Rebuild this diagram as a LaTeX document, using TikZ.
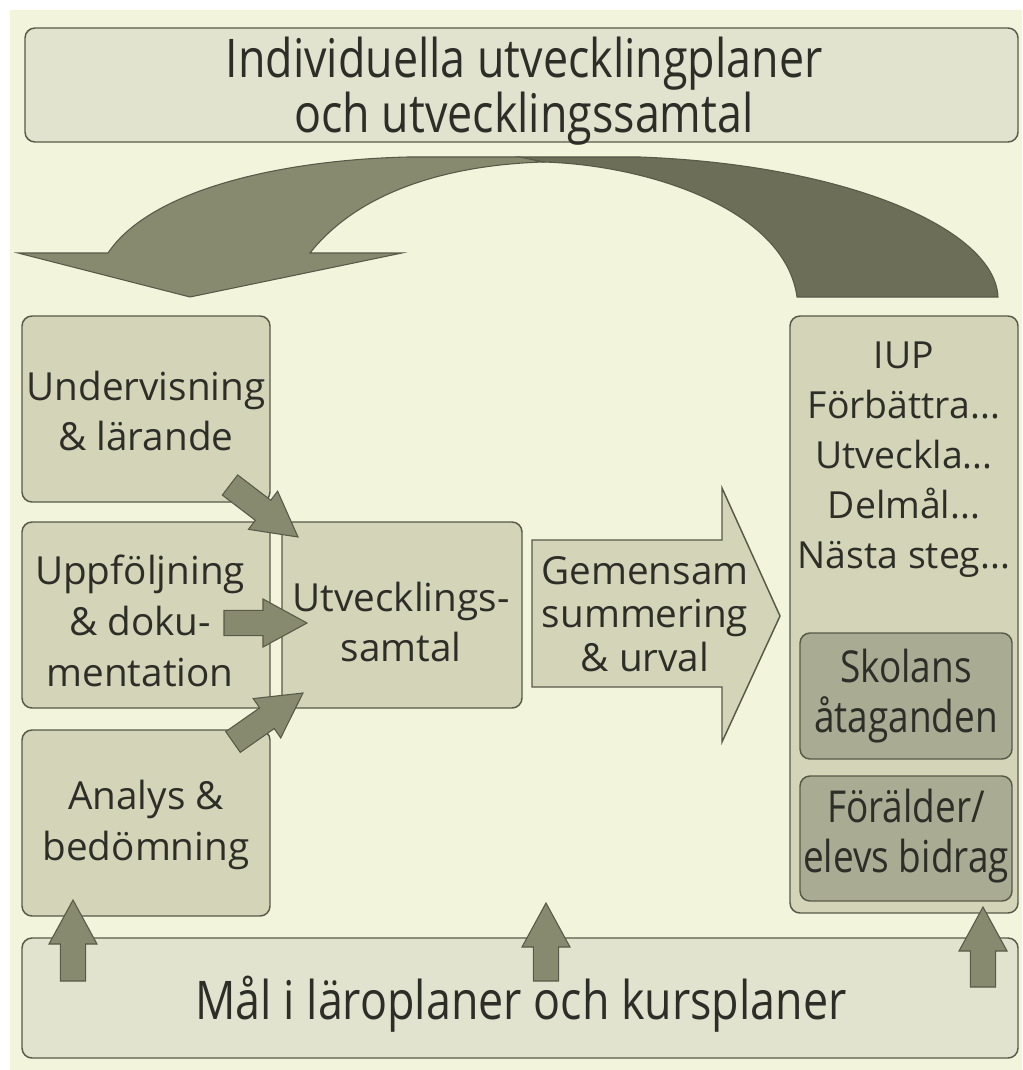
\documentclass[tikz,border=0pt]{standalone}
\usepackage{fontspec}
\setmainfont{Open Sans}
\newfontfamily\condfont[FakeStretch=0.84]{Open Sans}
\usetikzlibrary{calc,fit}
\definecolor{bgc}{HTML}{F2F4DC}
\definecolor{paleb}{HTML}{E2E3CF}
\definecolor{midb}{HTML}{D4D5B8}
\definecolor{darkb}{HTML}{AAAB93}
\definecolor{edgec}{HTML}{585A48}
\definecolor{arrf}{HTML}{878A6F}
\definecolor{arrd}{HTML}{6C6E58}
\definecolor{txtc}{HTML}{2E2E28}
\tikzset{
  box/.style={draw=edgec, line width=1.1pt, rounded corners=7.5pt, fill=midb, inner sep=0pt},
  palebox/.style={box, fill=paleb},
  darkbox/.style={box, fill=darkb},
  lbl/.style={inner sep=0pt, align=center, text=txtc},
  bigtxt/.style={lbl, font=\condfont\fontsize{40}{41}\selectfont},
  midtxt/.style={lbl, font=\fontsize{29}{38}\selectfont},
  darktxt/.style={lbl, font=\condfont\fontsize{33}{37}\selectfont},
  blk/.style={fill=arrf, draw=edgec, line width=0.8pt, line join=miter},
}
% block arrow from coordinate #1 (tail) to coordinate #2 (tip)
\newcommand\blockarrow[2]{%
  \coordinate (#1h) at ($(#2)!33pt!(#1)$);
  \draw[blk] ($(#1)!9.5pt!90:(#2)$) -- ($(#1h)!9.5pt!90:(#2)$)
    -- ($(#1h)!18pt!90:(#2)$) -- (#2) -- ($(#1h)!18pt!-90:(#2)$)
    -- ($(#1h)!9.5pt!-90:(#2)$) -- ($(#1)!9.5pt!-90:(#2)$) -- cycle;
}
\begin{document}
\begin{tikzpicture}[x=0.75pt,y=-0.75pt]
\useasboundingbox (0,0) rectangle (1022,1070);
\fill[bgc] (10,10) rectangle (1022,1070);

% top and bottom boxes
\node[palebox, fit={(25,28) (1018,142)}] (top) {};
\node[bigtxt] (toptext) at (524,91) {Individuella utvecklingplaner\\och utvecklingssamtal};
\node[palebox, fit={(22,938) (1018,1058)}] (goal) {};
\node[bigtxt] (goaltext) at (521,1004) {Mål i läroplaner och kursplaner};

% curved arrow (back, dark part)
\draw[fill=arrd, draw=edgec, line width=0.8pt]
  (520,157) -- (640,157) .. controls (850,165) and (995,230) .. (998,297)
  -- (797,297) .. controls (785,210) and (650,165) .. (543,162) -- cycle;
% curved arrow (front, light part with head)
\draw[fill=arrf, draw=edgec, line width=0.8pt, line join=miter]
  (108,253) -- (18,253) -- (190,297) -- (402,253) -- (310,253)
  .. controls (360,190) and (450,165) .. (543,162) -- (520,157) -- (408,157)
  .. controls (280,160) and (150,190) .. (108,253) -- cycle;

% left column
\node[box, fit={(22,316) (270,502)}] (teach) {};
\node[midtxt] at (146,411) {Undervisning\\\& lärande};
\node[box, fit={(22,522) (270,708)}] (follow) {};
\node[midtxt] at (140,621) {Uppföljning\\\& doku-\\mentation};
\node[box, fit={(22,730) (270,916)}] (anal) {};
\node[midtxt] at (146,825) {Analys \&\\bedömning};
\node[box, fit={(282,522) (522,708)}] (talk) {};
\node[midtxt] at (401,622) {Utvecklings-\\samtal};

% big arrow
\draw[fill=midb, draw=edgec, line width=1.1pt, line join=miter]
  (532,540) -- (722,540) -- (722,488) -- (780,616) -- (722,742) -- (722,687) -- (532,687) -- cycle;
\node[lbl, font=\fontsize{29}{32.5}\selectfont] (summ) at (645,614) {Gemensam\\summering\\\& urval};

% right column
\node[box, fit={(790,316) (1018,913)}] (iup) {};
\node[lbl, font=\fontsize{28}{37.5}\selectfont] (iuptext) at (904,460)
  {IUP\\Förbättra...\\Utveckla...\\Delmål...\\Nästa steg...};
\node[darkbox, fit={(800,633) (1012,759)}] (school) {};
\node[darktxt] at (906,696) {Skolans\\åtaganden};
\node[darkbox, fit={(800,776) (1012,901)}] (parent) {};
\node[darktxt] at (906,836) {Förälder/\\elevs bidrag};

% small arrows into the talk
\coordinate (a1) at (230,485); \coordinate (a1t) at (298,537);
\coordinate (a2) at (224,623); \coordinate (a2t) at (307,623);
\coordinate (a3) at (233,742); \coordinate (a3t) at (303,693);
\blockarrow{a1}{a1t}
\blockarrow{a2}{a2t}
\blockarrow{a3}{a3t}

% up arrows from the goals
\coordinate (u1) at (73,981); \coordinate (u1t) at (73,900);
\coordinate (u2) at (546,981); \coordinate (u2t) at (546,903);
\coordinate (u3) at (983,987); \coordinate (u3t) at (983,907);
\blockarrow{u1}{u1t}
\blockarrow{u2}{u2t}
\blockarrow{u3}{u3t}
\end{tikzpicture}
\end{document}
